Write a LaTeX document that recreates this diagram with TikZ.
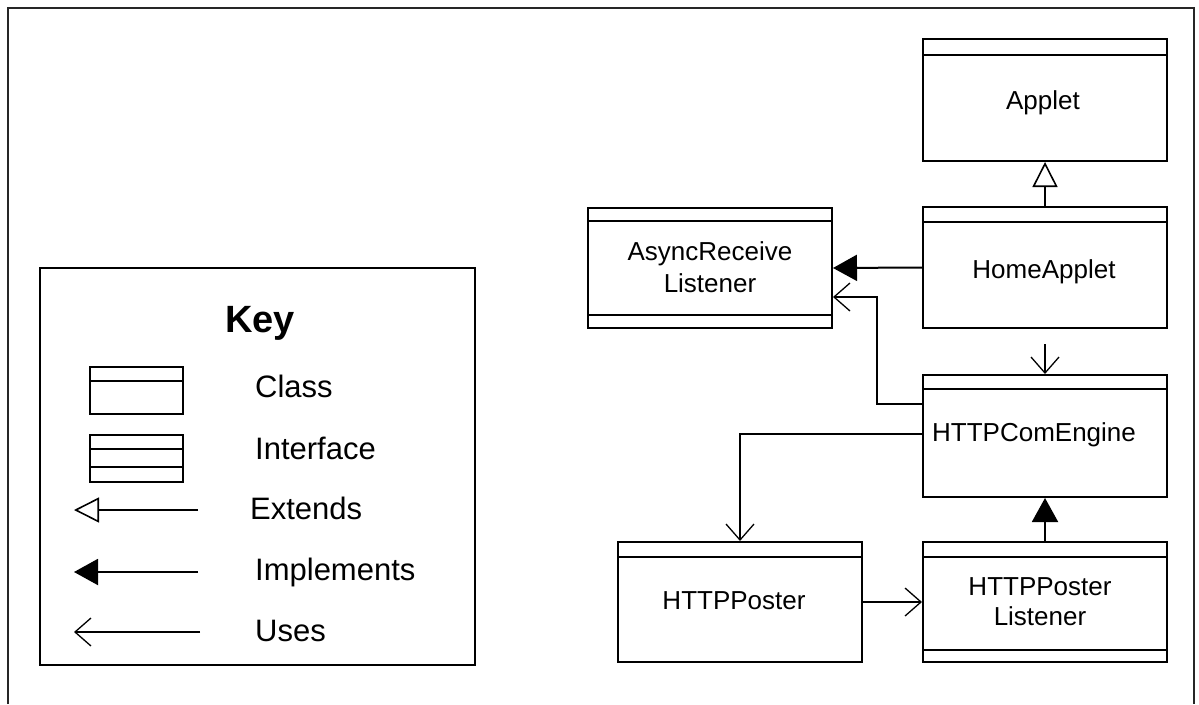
\documentclass[tikz,border=0pt]{standalone}
\usepackage{fontspec}
\setmainfont{Liberation Sans}
\usetikzlibrary{arrows.meta}
\begin{document}
\begin{tikzpicture}[x=1pt,y=-1pt,
  umlbox/.style={draw, line width=2pt, rectangle, inner sep=0pt, anchor=north west,
                 minimum width=244pt, minimum height=121pt},
  keyicon/.style={draw, line width=2pt, rectangle, inner sep=0pt, anchor=north west,
                 minimum width=93pt, minimum height=47pt},
  divider/.style={line width=2pt},
  lbl/.style={font=\fontsize{26}{31}\selectfont, anchor=base, inner sep=0pt},
  keylbl/.style={font=\fontsize{31}{37}\selectfont, anchor=base west, inner sep=0pt},
  conn/.style={line width=2pt},
  extends/.style={conn, -{Triangle[open, length=25pt, width=25pt, fill=white, line width=1.6pt]}},
  implements/.style={conn, -{Triangle[length=24pt, width=26pt]}},
  uses/.style={conn, -{Straight Barb[length=16pt, width=28pt, line width=1.3pt]}},
]
\useasboundingbox (0,0) rectangle (1199,704);

% outer frame
\draw[line width=2pt, black!85] (8,704) -- (8,8) -- (1194,8) -- (1194,704);

% ---------- classes and interfaces ----------
\node[umlbox, minimum height=122pt] (applet) at (922,38) {};
\draw[divider] ([yshift=-17pt]applet.north west) -- ([yshift=-17pt]applet.north east);
\node[lbl] (applet-t) at (1043,109) {Applet};

\node[umlbox] (home) at (922,206) {};
\draw[divider] ([yshift=-16pt]home.north west) -- ([yshift=-16pt]home.north east);
\node[lbl] (home-t) at (1044,278) {HomeApplet};

\node[umlbox, minimum height=120pt] (async) at (587,207) {};
\draw[divider] ([yshift=-14pt]async.north west) -- ([yshift=-14pt]async.north east);
\draw[divider] ([yshift=14pt]async.south west) -- ([yshift=14pt]async.south east);
\node[lbl] (async-t1) at (710,260) {AsyncReceive};
\node[lbl] (async-t2) at (710,292) {Listener};

\node[umlbox, minimum height=122pt] (engine) at (922,374) {};
\draw[divider] ([yshift=-15pt]engine.north west) -- ([yshift=-15pt]engine.north east);
\node[lbl] (engine-t) at (1034,441) {HTTPComEngine};

\node[umlbox, minimum height=120pt] (poster) at (617,541) {};
\draw[divider] ([yshift=-16pt]poster.north west) -- ([yshift=-16pt]poster.north east);
\node[lbl] (poster-t) at (734,609) {HTTPPoster};

\node[umlbox, minimum height=120pt] (listener) at (922,541) {};
\draw[divider] ([yshift=-16pt]listener.north west) -- ([yshift=-16pt]listener.north east);
\draw[divider] ([yshift=13pt]listener.south west) -- ([yshift=13pt]listener.south east);
\node[lbl] (listener-t1) at (1040,595) {HTTPPoster};
\node[lbl] (listener-t2) at (1040,625) {Listener};

% ---------- relationships ----------
\draw[extends] (home.north) -- (applet.south);
\draw[implements] (home.west) -- (async.east);
\coordinate (home-use) at ([yshift=-15pt]home.south);
\draw[uses] (home-use) -- (engine.north);
\draw[uses] ([yshift=-30pt]engine.north west) -- ++(-45,0) |- ([yshift=-90pt]async.north east);
\draw[uses] ([yshift=-60pt]engine.north west) -| (poster.north);
\draw[implements] (listener.north) -- (engine.south);
\draw[uses] (poster.east) -- (listener.west);

% ---------- key ----------
\node[draw, line width=2pt, rectangle, inner sep=0pt, anchor=north west,
      minimum width=435pt, minimum height=397pt] (key) at (39,267) {};
\node[font=\fontsize{38}{44}\selectfont\bfseries, anchor=base, inner sep=0pt] (key-t) at (260,332) {Key};

\node[keyicon] (key-class) at (89,366) {};
\draw[divider] ([yshift=-15pt]key-class.north west) -- ([yshift=-15pt]key-class.north east);
\node[keylbl] (key-class-t) at (255,397) {Class};

\node[keyicon] (key-iface) at (89,434) {};
\draw[divider] ([yshift=-15pt]key-iface.north west) -- ([yshift=-15pt]key-iface.north east);
\draw[divider] ([yshift=16pt]key-iface.south west) -- ([yshift=16pt]key-iface.south east);
\node[keylbl] (key-iface-t) at (255,459) {Interface};

\coordinate (ext-a) at (198,510);
\coordinate (ext-b) at (74,510);
\draw[extends] (ext-a) -- (ext-b);
\node[keylbl] (key-ext-t) at (250,519) {Extends};

\coordinate (imp-a) at (198,572);
\coordinate (imp-b) at (74,572);
\draw[implements] (imp-a) -- (imp-b);
\node[keylbl] (key-imp-t) at (255,580) {Implements};

\coordinate (use-a) at (200,632);
\coordinate (use-b) at (74,632);
\draw[uses] (use-a) -- (use-b);
\node[keylbl] (key-use-t) at (255,641) {Uses};
\end{tikzpicture}
\end{document}
